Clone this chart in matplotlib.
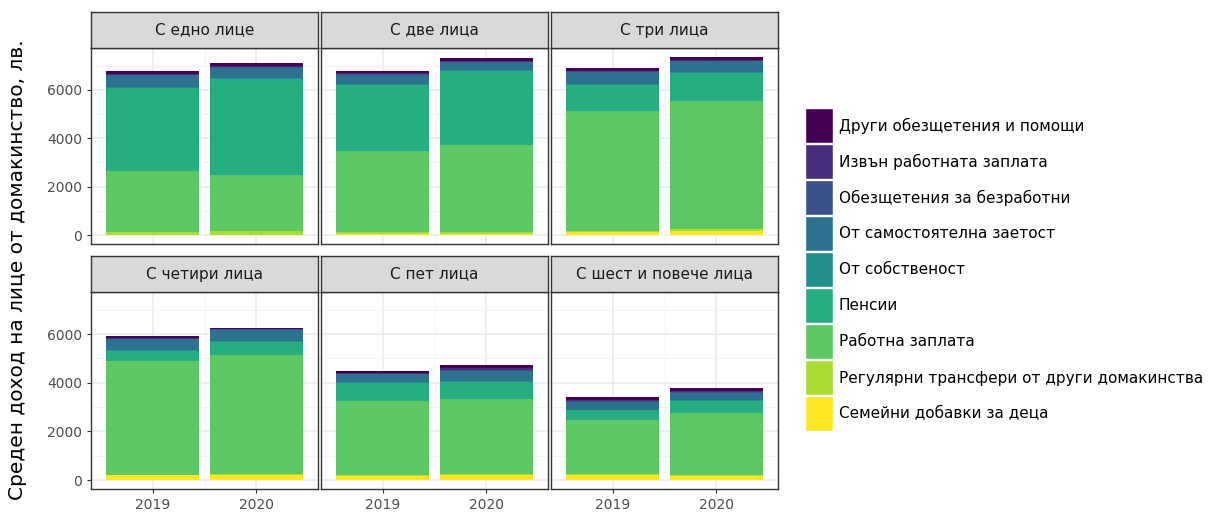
import matplotlib
matplotlib.use("Agg")
import matplotlib.pyplot as plt
from matplotlib.patches import Rectangle
import numpy as np

plt.rcParams['font.family'] = ['DejaVu Sans']

years = ["2019", "2020"]
panels = ["С едно лице", "С две лица", "С три лица",
          "С четири лица", "С пет лица", "С шест и повече лица"]
categories = ["Други обезщетения и помощи", "Извън работната заплата",
              "Обезщетения за безработни", "От самостоятелна заетост",
              "От собственост", "Пенсии", "Работна заплата",
              "Регулярни трансфери от други домакинства",
              "Семейни добавки за деца"]
colors = ["#440154", "#472D7B", "#3B528B", "#2C728E", "#21908C",
          "#27AD81", "#5DC863", "#AADC32", "#FDE725"]

# values per panel: [2019, 2020] for each category (top-to-bottom order)
drugi        = [[110, 125], [95, 105], [105, 115], [85, 30], [85, 110], [105, 120]]
izvan        = [[40, 42], [30, 32], [35, 39], [25, 12], [27, 90], [35, 60]]
bezrabotni   = [[25, 25], [25, 20], [30, 30], [30, 30], [30, 30], [30, 25]]
samostoyat   = [[480, 420], [380, 340], [500, 450], [440, 480], [330, 410], [330, 293]]
sobstvenost  = [[37, 38], [28, 29], [37, 32], [33, 35], [30, 34], [32, 30]]
pensii       = [[3446, 3946], [2751, 3059], [1083, 1141], [419, 528], [725, 716], [402, 520]]
zaplata      = [[2528, 2333], [3359, 3610], [4943, 5305], [4668, 4890], [3046, 3072], [2221, 2526]]
regulyarni   = [[105, 157], [70, 70], [40, 80], [30, 40], [30, 30], [40, 30]]
semeyni      = [[5, 10], [42, 40], [130, 170], [192, 211], [180, 221], [199, 180]]

series = [drugi, izvan, bezrabotni, samostoyat, sobstvenost, pensii,
          zaplata, regulyarni, semeyni]

W, H = 1223, 515
fig = plt.figure(figsize=(W / 100, H / 100), dpi=100)

def px_axes(x0, y0, x1, y1):
    return fig.add_axes([x0 / W, 1 - y1 / H, (x1 - x0) / W, (y1 - y0) / H])

totals = np.array([[sum(s[p][i] for s in series) for i in range(2)] for p in range(6)])
ymax = totals.max()
ylim = (-0.05 * ymax, 1.05 * ymax)

col_x = [(91, 318), (321, 548), (551, 778)]
row_y = [(12, 48, 244), (256, 292, 489)]

for p in range(6):
    r, c = divmod(p, 3)
    x0, x1 = col_x[c]
    s0, s1, b1 = row_y[r]
    ax = px_axes(x0, s1, x1, b1)
    ax.set_xlim(0.4, 2.6)
    ax.set_ylim(*ylim)
    # grid
    for yv in [1000, 3000, 5000, 7000]:
        ax.axhline(yv, color="#F2F2F2", lw=0.6, zorder=0)
    for yv in [0, 2000, 4000, 6000]:
        ax.axhline(yv, color="#EBEBEB", lw=1.1, zorder=0)
    ax.axvline(1.5, color="#F2F2F2", lw=0.6, zorder=0)
    for xv in [1, 2]:
        ax.axvline(xv, color="#EBEBEB", lw=1.1, zorder=0)
    # stacked bars, bottom category first
    xs = np.array([1, 2])
    bottom = np.zeros(2)
    for k in range(len(categories) - 1, -1, -1):
        vals = np.array(series[k][p], dtype=float)
        ax.bar(xs, vals, width=0.9, bottom=bottom, color=colors[k],
               edgecolor="none", zorder=2)
        bottom += vals
    ax.set_yticks([0, 2000, 4000, 6000])
    ax.set_xticks([1, 2])
    if c == 0:
        ax.set_yticklabels(["0", "2000", "4000", "6000"])
    else:
        ax.set_yticklabels([])
    if r == 1:
        ax.set_xticklabels(years)
    else:
        ax.set_xticklabels([])
    ax.tick_params(axis="both", colors="#333333", labelcolor="#4D4D4D",
                   labelsize=10, length=3, width=0.8)
    if c != 0:
        ax.tick_params(axis="y", length=0)
    if r != 1:
        ax.tick_params(axis="x", length=0)
    for sp in ax.spines.values():
        sp.set_color("#333333")
        sp.set_linewidth(1.0)
    # strip
    sax = px_axes(x0, s0, x1, s1)
    sax.set_xticks([]); sax.set_yticks([])
    sax.set_facecolor("#D9D9D9")
    for sp in sax.spines.values():
        sp.set_color("#333333")
        sp.set_linewidth(1.0)
    sax.text(0.5, 0.5, panels[p], ha="center", va="center", fontsize=11,
             color="#1A1A1A", transform=sax.transAxes)

fig.text(18 / W, 1 - 270 / H, "Среден доход на лице от домакинство, лв.",
         rotation=90, ha="center", va="center", fontsize=14.5, color="black")

# legend
lax = px_axes(800, 105, 1223, 440)
lax.set_xlim(0, 423)
lax.set_ylim(335, 0)
lax.axis("off")
for i, (cat, col) in enumerate(zip(categories, colors)):
    y = 3 + i * 36
    lax.add_patch(Rectangle((5, y), 28, 35, facecolor=col, edgecolor="white", lw=1))
    lax.text(39, y + 18, cat, ha="left", va="center", fontsize=11, color="black")

fig.savefig("out.png", dpi=100)
